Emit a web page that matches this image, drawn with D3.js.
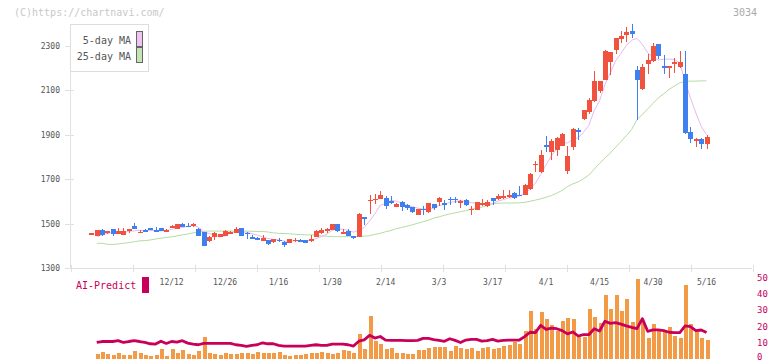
<!DOCTYPE html>
<html><head><meta charset="utf-8">
<script src="https://cdn.jsdelivr.net/npm/d3@7/dist/d3.min.js"></script>
<style>body{margin:0;background:#fff}svg{display:block}</style>
</head><body>
<svg id="c" width="772" height="361"></svg>
<script>
// ---- data (index 0 = 2024/11/21 ... index 115 = 2025/5/16) ----
const open  = [1455,1446,1472,1456,1475,1455,1450,1473,1489,1461,1472,1479,1470,1479,1467,1479,1477,1498,1490,1488,1477,1462,1423,1438,1441,1446,1455,1458,1480,1459,1441,1433,1423,1426,1417,1427,1418,1414,1425,1424,1426,1420,1441,1458,1473,1471,1498,1458,1468,1444,1441,1528,1604,1609,1612,1616,1599,1576,1597,1582,1572,1539,1566,1551,1587,1595,1590,1611,1611,1598,1607,1565,1562,1588,1577,1613,1610,1613,1617,1637,1630,1629,1655,1765,1730,1851,1820,1829,1850,1734,1842,1921,1971,1999,2052,2097,2147,2225,2278,2327,2345,2365,2189,2106,2219,2229,2305,2210,2198,2221,2204,2174,1911,1869,1881,1859];
const high  = [1458,1472,1475,1468,1476,1478,1478,1476,1503,1471,1474,1480,1483,1480,1476,1493,1500,1501,1501,1501,1479,1464,1445,1461,1455,1469,1466,1485,1482,1461,1449,1441,1447,1428,1431,1435,1420,1432,1434,1432,1428,1447,1469,1482,1482,1500,1500,1477,1477,1446,1545,1530,1630,1633,1647,1624,1624,1592,1600,1586,1575,1567,1579,1593,1589,1618,1607,1619,1617,1606,1609,1577,1598,1611,1607,1615,1634,1652,1652,1640,1670,1677,1726,1782,1832,1895,1880,1888,1907,1847,1931,1929,2012,2064,2187,2142,2280,2272,2334,2367,2381,2396,2210,2219,2261,2310,2307,2258,2210,2245,2274,2277,1932,1884,1884,1896];
const low   = [1454,1445,1445,1452,1446,1453,1448,1459,1474,1457,1461,1470,1468,1467,1466,1478,1476,1485,1487,1486,1444,1400,1418,1426,1438,1444,1452,1456,1444,1429,1430,1426,1421,1403,1411,1415,1396,1412,1419,1417,1412,1418,1439,1455,1459,1469,1464,1452,1442,1432,1439,1494,1543,1588,1610,1567,1588,1574,1558,1561,1545,1537,1537,1549,1561,1577,1562,1584,1590,1569,1580,1539,1560,1580,1575,1584,1607,1610,1615,1611,1625,1627,1651,1730,1725,1820,1787,1805,1848,1724,1832,1877,1965,1990,2045,2087,2145,2169,2262,2312,2317,2332,1967,2100,2174,2226,2240,2171,2152,2177,2200,1904,1860,1845,1833,1833];
const close = [1457,1471,1448,1466,1455,1466,1466,1474,1476,1462,1463,1471,1469,1468,1469,1491,1498,1486,1489,1497,1446,1401,1441,1459,1452,1467,1464,1476,1446,1452,1432,1432,1437,1410,1429,1425,1405,1430,1427,1422,1414,1432,1467,1471,1475,1498,1468,1460,1444,1437,1543,1524,1606,1611,1626,1580,1597,1588,1574,1568,1552,1564,1564,1591,1569,1616,1588,1609,1609,1600,1584,1567,1595,1590,1598,1599,1622,1625,1629,1614,1628,1673,1724,1768,1809,1848,1872,1886,1901,1805,1925,1910,2009,2057,2139,2139,2277,2270,2332,2342,2360,2350,2147,2202,2234,2300,2255,2198,2207,2225,2225,1907,1881,1881,1859,1887];
const ma5   = [null,1440,1450,1456,1459,1461,1460,1465,1467,1469,1468,1469,1468,1467,1468,1474,1479,1482,1487,1492,1483,1464,1455,1449,1440,1444,1457,1464,1461,1461,1454,1448,1440,1433,1428,1427,1421,1420,1423,1422,1420,1425,1432,1441,1452,1469,1476,1474,1469,1461,1470,1482,1511,1544,1582,1589,1604,1600,1592,1581,1576,1569,1564,1568,1568,1581,1586,1595,1598,1604,1598,1594,1591,1587,1587,1590,1601,1607,1615,1618,1624,1634,1654,1681,1720,1764,1804,1837,1863,1862,1878,1885,1910,1941,2008,2051,2124,2176,2231,2265,2300,2324,2332,2305,2267,2247,2235,2238,2239,2237,2222,2139,2064,1997,1937,1899];
const ma25  = [null,1411,1411,1406,1406,1408,1411,1414,1418,1422,1423,1426,1430,1434,1437,1440,1444,1449,1453,1458,1462,1465,1466,1466,1466,1466,1466,1466,1466,1466,1465,1464,1464,1462,1458,1456,1455,1454,1452,1450,1449,1449,1448,1444,1443,1441,1441,1441,1441,1441,1442,1443,1445,1451,1456,1463,1468,1477,1482,1488,1494,1501,1508,1515,1524,1530,1537,1543,1548,1553,1558,1564,1569,1574,1580,1588,1591,1592,1592,1592,1593,1595,1600,1605,1611,1618,1626,1636,1649,1666,1678,1687,1701,1718,1744,1770,1794,1816,1843,1868,1895,1923,1967,1990,2015,2040,2065,2083,2103,2118,2132,2139,2140,2140,2141,2141];
const volume = [null,3.0,4.5,3.0,2.4,3.7,2.4,2.4,4.9,3.7,2.4,1.8,2.4,6.1,1.8,6.1,3.7,5.3,3.0,2.4,4.9,13.5,3.7,3.2,2.4,3.7,3.0,3.0,3.7,3.7,3.0,4.3,3.7,3.7,3.7,4.3,2.4,1.8,2.4,2.4,3.0,3.7,3.7,4.3,3.7,3.0,3.7,5.5,5.1,3.7,15.6,6.1,26.7,11.1,9.2,6.1,6.7,3.7,3.7,3.0,3.0,5.8,5.5,6.7,7.3,7.3,7.3,4.9,8.0,6.7,6.1,6.7,4.9,6.7,7.3,6.1,6.7,8.0,8.6,10.4,9.2,17.0,29.6,18.5,29.0,24.6,20.9,17.2,23.4,25.3,24.6,14.2,13.5,30.8,25.9,22.2,39.7,30.8,39.7,29.6,37.0,22.8,49.3,22.8,12.9,21.6,17.9,16.6,19.7,14.2,12.9,45.6,21.6,17.2,12.9,11.7];
const aiPredict = [null,10.2,10.8,10.8,10.8,11.3,10.2,10.8,11.3,10.8,10.2,9.4,9.2,11.0,9.6,10.8,10.4,11.3,9.8,9.2,8.8,9.6,9.6,9.6,9.6,9.6,9.6,8.8,8.4,7.8,8.4,8.8,10.0,9.4,9.4,8.4,8.0,8.0,8.0,8.0,8.0,8.4,8.8,8.4,8.4,9.2,9.2,9.2,8.8,8.0,11.0,11.8,14.6,12.9,13.9,11.7,11.5,11.5,11.5,11.3,11.3,11.5,12.7,12.7,12.0,11.5,10.9,12.5,11.5,10.2,11.7,12.1,12.1,11.0,11.3,12.1,11.0,11.5,11.7,11.7,11.7,13.8,16.5,16.3,20.8,18.3,19.1,18.7,17.5,15.5,16.7,14.2,15.0,15.0,18.7,17.3,23.3,22.0,22.4,21.5,20.4,19.5,18.7,24.9,17.1,18.0,18.0,17.5,16.5,16.3,16.3,20.4,20.0,17.5,17.9,16.3];
const dateLabels = ["12/12","12/26","1/16","1/30","2/14","3/3","3/17","4/1","4/15","4/30","5/16"];
const dateLabelIndex = [15,25,35,45,55,65,75,85,95,105,115];
const priceTicks = [1300,1500,1700,1900,2100,2300];
const predictTicks = [0,10,20,30,40,50];

// ---- layout ----
const svg = d3.select("#c");
const mono = "'DejaVu Sans Mono','Liberation Mono',monospace";
const x = d3.scaleLinear().domain([-4, 123.5]).range([70, 752]);
const y = d3.scaleLinear().domain([1300, 2300]).range([268, 45.5]);
const yv = d3.scaleLinear().domain([0, 50]).range([359, 278]);
const grid = d3.scaleLinear().domain([0, 11]).range([70.5, 752.5]);
const UP = "#f0523f", DOWN = "#3f7ff0";

// watermark & code
svg.append("text").attr("x", 14).attr("y", 16).attr("font-family", mono).attr("font-size", 10)
  .attr("fill", "#c8c8c8").text("(C)https://chartnavi.com/");
svg.append("text").attr("x", 757).attr("y", 16).attr("text-anchor", "end").attr("font-family", mono)
  .attr("font-size", 10).attr("fill", "#aaa").text("3034");

// axes
const ax = svg.append("g").attr("stroke", "#e0e0e0").attr("shape-rendering", "crispEdges");
ax.append("line").attr("x1", 70.5).attr("x2", 70.5).attr("y1", 24).attr("y2", 268);
ax.append("line").attr("x1", 70).attr("x2", 752).attr("y1", 268.5).attr("y2", 268.5);
ax.selectAll(".gt").data(d3.range(12)).join("line")
  .attr("x1", d => Math.round(grid(d)) + 0.5).attr("x2", d => Math.round(grid(d)) + 0.5)
  .attr("y1", 265).attr("y2", 272);
ax.selectAll(".yt").data(priceTicks).join("line")
  .attr("x1", 65).attr("x2", 74).attr("y1", d => Math.round(y(d)) + 0.5).attr("y2", d => Math.round(y(d)) + 0.5);

svg.selectAll(".yl").data(priceTicks).join("text")
  .attr("x", 60).attr("y", d => y(d) + 3).attr("text-anchor", "end")
  .attr("font-family", mono).attr("font-size", 8).attr("fill", "#555").text(d => d);

svg.selectAll(".xl").data(dateLabelIndex).join("text")
  .attr("x", d => x(d)).attr("y", 285).attr("text-anchor", "middle")
  .attr("font-family", mono).attr("font-size", 8).attr("fill", "#555").text((d, k) => dateLabels[k]);

// MA lines
const idx = d3.range(close.length);
const line = arr => d3.line().defined(i => arr[i] != null).x(i => x(i)).y(i => y(arr[i]));
svg.append("path").attr("d", line(ma25)(idx)).attr("fill", "none").attr("stroke", "#b4dca4").attr("stroke-width", 1);
svg.append("path").attr("d", line(ma5)(idx)).attr("fill", "none").attr("stroke", "#eab8ec").attr("stroke-width", 1);

// candles
const cg = svg.append("g").attr("shape-rendering", "crispEdges");
cg.selectAll(".w").data(idx).join("line")
  .attr("x1", i => Math.round(x(i)) + 0.5).attr("x2", i => Math.round(x(i)) + 0.5)
  .attr("y1", i => y(high[i])).attr("y2", i => y(low[i]))
  .attr("stroke", i => close[i] >= open[i] ? UP : DOWN);
cg.selectAll(".b").data(idx).join("rect")
  .attr("x", i => Math.round(x(i)) - 2).attr("width", 5)
  .attr("y", i => y(Math.max(open[i], close[i])))
  .attr("height", i => Math.max(1.5, Math.abs(y(open[i]) - y(close[i]))))
  .attr("fill", i => close[i] >= open[i] ? UP : DOWN);

// legend
const lg = svg.append("g");
lg.append("rect").attr("x", 70.5).attr("y", 24.5).attr("width", 78).attr("height", 47)
  .attr("fill", "#fff").attr("stroke", "#ddd");
[["5-day MA", "#f0c4f0", 40], ["25-day MA", "#c4e4b4", 56]].forEach(([t, c, yy]) => {
  lg.append("text").attr("x", 131).attr("y", yy + 4).attr("text-anchor", "end")
    .attr("font-family", mono).attr("font-size", 10).attr("fill", "#555").text(t);
  lg.append("rect").attr("x", 136.5).attr("y", yy - 8.5).attr("width", 6).attr("height", 15)
    .attr("fill", c).attr("stroke", "#666");
});

// lower panel
svg.append("text").attr("x", 76).attr("y", 289).attr("font-family", mono).attr("font-size", 10)
  .attr("fill", "#c8005a").text("AI-Predict");
svg.append("rect").attr("x", 142).attr("y", 277).attr("width", 7).attr("height", 16).attr("fill", "#c8005a");
svg.selectAll(".rl").data(predictTicks).join("text")
  .attr("x", 757).attr("y", d => Math.min(yv(d) + 3, 359.5)).attr("font-family", mono).attr("font-size", 9)
  .attr("fill", "#c8005a").text(d => d);

svg.append("g").attr("shape-rendering", "crispEdges").selectAll("rect")
  .data(idx.filter(i => volume[i] != null)).join("rect")
  .attr("x", i => Math.round(x(i)) - 1.5).attr("width", 4)
  .attr("y", i => yv(volume[i])).attr("height", i => yv(0) - yv(volume[i]))
  .attr("fill", "#f29a46");

svg.append("path").attr("d", d3.line().defined(i => aiPredict[i] != null).x(i => x(i)).y(i => yv(aiPredict[i]))(idx))
  .attr("fill", "none").attr("stroke", "#c8005a").attr("stroke-width", 2.8).attr("stroke-linejoin", "round");
</script>
</body></html>
